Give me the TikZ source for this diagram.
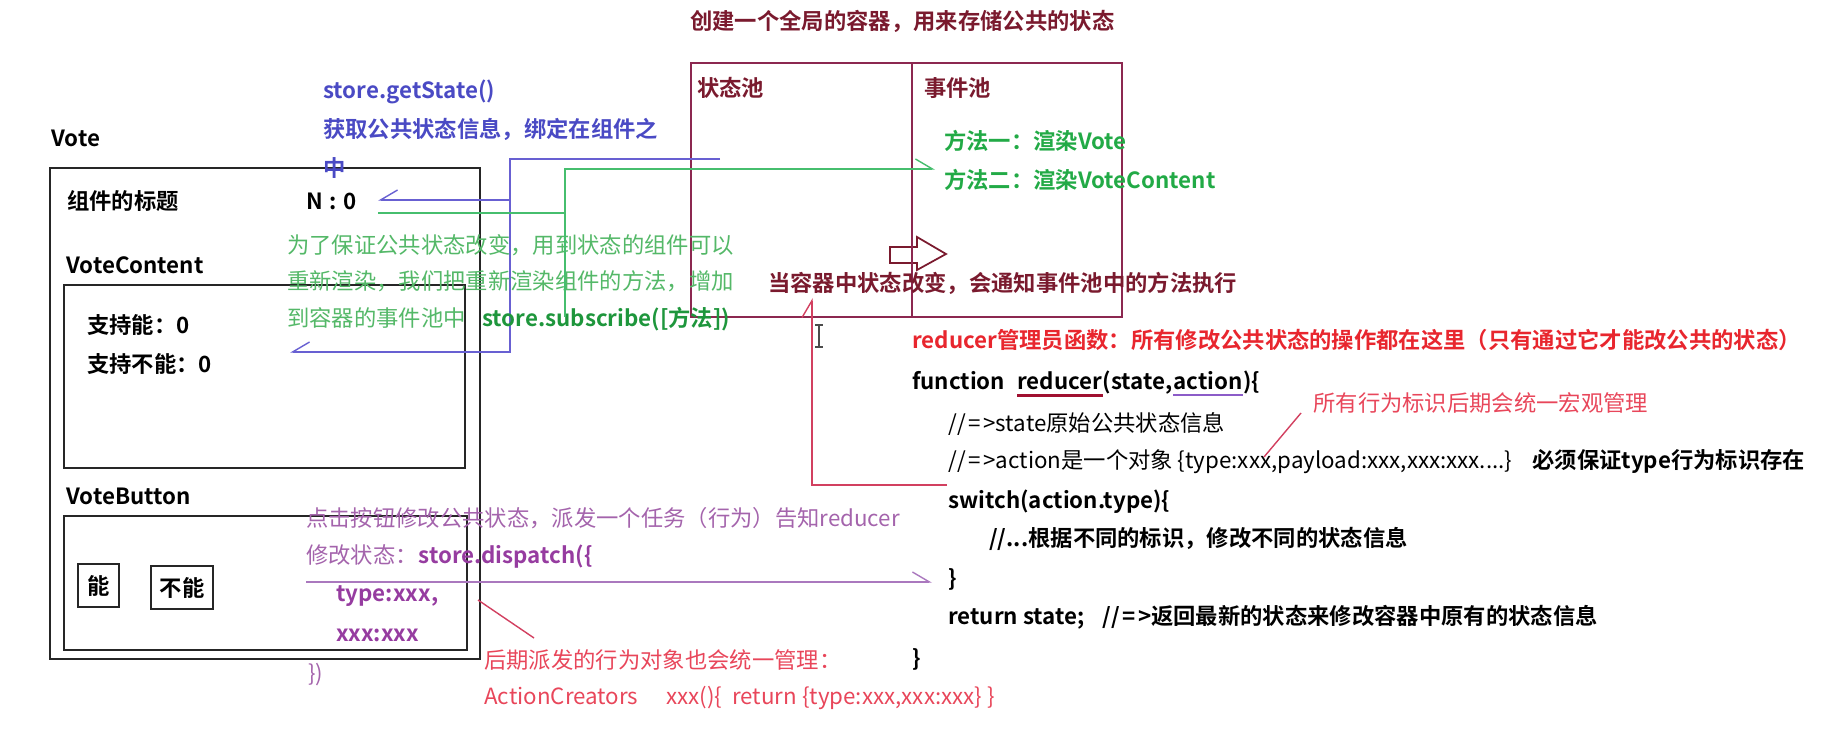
\documentclass[tikz,border=0pt]{standalone}
\usepackage{fontspec}
\setmainfont{Noto Sans CJK SC}[BoldFont={Noto Sans CJK SC Bold}]
\usetikzlibrary{arrows.meta}
\definecolor{stmaroon}{RGB}{122,26,46}
\definecolor{stbox}{RGB}{140,40,80}
\definecolor{getblue}{RGB}{74,74,196}
\definecolor{wireblue}{RGB}{104,96,210}
\definecolor{subgreen}{RGB}{84,184,104}
\definecolor{subdark}{RGB}{30,150,60}
\definecolor{fngreen}{RGB}{34,170,70}
\definecolor{wiregreen}{RGB}{70,190,110}
\definecolor{dispurple}{RGB}{164,100,172}
\definecolor{disbold}{RGB}{150,60,160}
\definecolor{wirepurple}{RGB}{170,120,190}
\definecolor{redtxt}{RGB}{232,38,46}
\definecolor{pinkred}{RGB}{232,70,90}
\definecolor{wirered}{RGB}{210,64,96}
\definecolor{underred}{RGB}{160,16,48}
\definecolor{underpurple}{RGB}{140,92,200}
\newcommand{\arrowcmt}{//\hspace{0.12em}=\hspace{0.12em}>}

\tikzset{
  txt/.style={anchor=west, inner sep=0pt, text height=0.88em, text depth=0.12em,
    font=\fontsize{12.7}{15}\selectfont},
  txtb/.style={txt, font=\fontsize{12.7}{15}\selectfont\bfseries},
  storelbl/.style={txtb, text=stmaroon},
  getnote/.style={txtb, text=getblue},
  subnote/.style={txt, text=subgreen},
  subcall/.style={txtb, text=subdark},
  fnlbl/.style={txtb, text=fngreen},
  disnote/.style={txt, text=dispurple},
  discall/.style={txtb, text=disbold},
  redhead/.style={txtb, text=redtxt},
  rednote/.style={txt, text=pinkred},
  comp/.style={draw=black!85, line width=1pt},
  btn/.style={comp, anchor=center, inner sep=0pt, minimum height=8.6mm,
    font=\fontsize{12.7}{15}\selectfont\bfseries},
  barb/.style={-{Straight Barb[harpoon, length=3.4mm, width=4mm]}},
  barbswap/.style={-{Straight Barb[harpoon, swap, length=3.4mm, width=4mm]}},
  bwire/.style={draw=wireblue, line width=0.8pt},
  gwire/.style={draw=wiregreen, line width=0.8pt},
  pwire/.style={draw=wirepurple, line width=0.8pt},
  rwire/.style={draw=wirered, line width=0.8pt}
}

\begin{document}
\begin{tikzpicture}[x=0.2mm, y=-0.2mm]
\useasboundingbox (0,0) rectangle (1825,729);

% the store
\node[storelbl] (title) at (690,23) {创建一个全局的容器，用来存储公共的状态};
\draw[stbox, line width=0.9pt] (691,63) rectangle (1122,317);
\node[storelbl] (statepool) at (697,90) {状态池};
\node[storelbl] (eventpool) at (924,90) {事件池};
\node[fnlbl] (method1) at (944,143) {方法一：渲染Vote};
\node[fnlbl] (method2) at (944,182) {方法二：渲染VoteContent};
\draw[stmaroon, line width=1pt] (890,247) -- (917,247) -- (917,237) -- (946,254)
  -- (917,270) -- (917,263) -- (890,263) -- cycle;
\draw[stbox, line width=0.9pt] (912,63) -- (912,317);
\node[storelbl] (notify) at (768,285) {当容器中状态改变，会通知事件池中的方法执行};
\draw[black!70, line width=0.7pt] (819,325) -- (819,347) (815,325) -- (823,325) (815,347) -- (823,347);

% Vote component
\node[txtb] (vote) at (51,140) {Vote};
\draw[comp] (50,168) rectangle (480,659);
\node[txtb] (votetitle) at (67,203) {组件的标题};
\node[txtb] (nval) at (306,203) {N\hspace{0.3em}:\hspace{0.3em}0};
\node[txtb] (vcontent) at (66,267) {VoteContent};
\draw[comp] (64,285) rectangle (465,468);
\node[txtb] (yes) at (87,327) {支持能：0};
\node[txtb] (no) at (87,366) {支持不能：0};
\node[txtb] (vbutton) at (66,498) {VoteButton};
\draw[comp] (64,516) rectangle (467,650);
\node[btn, minimum width=8.2mm] (btnyes) at (98.5,585.5) {能};
\node[btn, minimum width=12.4mm] (btnno) at (182,587.5) {不能};

% getState
\node[getnote] (get1) at (323,92) {store.getState()};
\node[getnote] (get2) at (323,131) {获取公共状态信息，绑定在组件之};
\node[getnote] (get3) at (323,170) {中};
\coordinate (gsrc) at (720,159);
\coordinate (gfork) at (510,159);
\coordinate (gtoN) at (378,200);
\coordinate (gtoC) at (290,352);
\draw[bwire, barbswap] (gsrc) -- (gfork) |- (gtoC);
\draw[bwire, barbswap] (gfork |- gtoN) -- (gtoN);

% subscribe
\node[subnote] (sub1) at (287,247) {为了保证公共状态改变，用到状态的组件可以};
\node[subnote] (sub2) at (287,283) {重新渲染，我们把重新渲染组件的方法，增加};
\node[subnote] (sub3) at (287,320) {到容器的事件池中};
\node[subcall] (sub4) at (482,320) {store.subscribe([方法])};
\coordinate (ssrc) at (565,317);
\coordinate (sfork) at (565,169);
\coordinate (sdst) at (935,169);
\coordinate (sfromN) at (378,213);
\draw[gwire, barb] (ssrc) -- (sfork) -- (sdst);
\draw[gwire] (sfromN) -- (sfork |- sfromN);

% dispatch
\node[disnote] (dis1) at (306,520) {点击按钮修改公共状态，派发一个任务（行为）告知reducer};
\node[disnote] (dis2) at (306,557) {修改状态：};
\node[discall] (dis3) at (dis2.east) {store.dispatch(\{};
\node[discall] (dis4) at (336,595) {type:xxx,};
\node[discall] (dis5) at (336,635) {xxx:xxx};
\node[disnote] (dis6) at (308,675) {\})};
\coordinate (dsrc) at (306,582);
\coordinate (ddst) at (932,582);
\draw[pwire, barb] (dsrc) -- (ddst);

% action creators
\node[rednote] (ac1) at (484,662) {后期派发的行为对象也会统一管理：};
\node[rednote] (ac2) at (484,698) {ActionCreators};
\node[rednote] (ac3) at (666,698) {xxx()\{~~return \{type:xxx,xxx:xxx\} \}};
\coordinate (acA) at (478,600);
\coordinate (acB) at (534,638);
\draw[rwire] (acA) -- (acB);

% reducer
\node[redhead] (rdhead) at (912,342) {reducer管理员函数：所有修改公共状态的操作都在这里（只有通过它才能改公共的状态）};
\node[txtb] (fnkw) at (912,383) {function};
\node[txtb] (fnname) at (1017,383) {reducer};
\node[txtb] (fnargs) at (fnname.east) {(state,};
\node[txtb] (fnact) at (fnargs.east) {action};
\node[txtb] (fnopen) at (fnact.east) {)\{};
\draw[underred, line width=1.6pt] ([yshift=-2pt]fnname.south west) -- ([yshift=-2pt]fnname.south east);
\draw[underpurple, line width=1.2pt] ([yshift=-1.5pt]fnact.south west) -- ([yshift=-1.5pt]fnact.south east);
\node[txt] (c1) at (948,425) {\arrowcmt state原始公共状态信息};
\node[txt] (c2) at (948,462) {\arrowcmt action是一个对象 \{type:xxx,payload:xxx,xxx:xxx....\}};
\node[txtb] (c2b) at (1532,462) {必须保证type行为标识存在};
\node[txtb] (c3) at (948,502) {switch(action.type)\{};
\node[txtb] (c4) at (989,540) {//...根据不同的标识，修改不同的状态信息};
\node[txtb] (c5) at (948,580) {\}};
\node[txtb] (c6) at (948,618) {return state;};
\node[txtb] (c6b) at (1102,618) {\arrowcmt 返回最新的状态来修改容器中原有的状态信息};
\node[txtb] (c7) at (912,660) {\}};
\node[rednote] (typenote) at (1313,405) {所有行为标识后期会统一宏观管理};
\coordinate (tyA) at (1264,457);
\coordinate (tyB) at (1301,413);
\draw[rwire] (tyA) -- (tyB);
\coordinate (rsrc) at (947,485);
\coordinate (rdst) at (812,298);
\draw[rwire, barb] (rsrc) -| (rdst);
\end{tikzpicture}
\end{document}
